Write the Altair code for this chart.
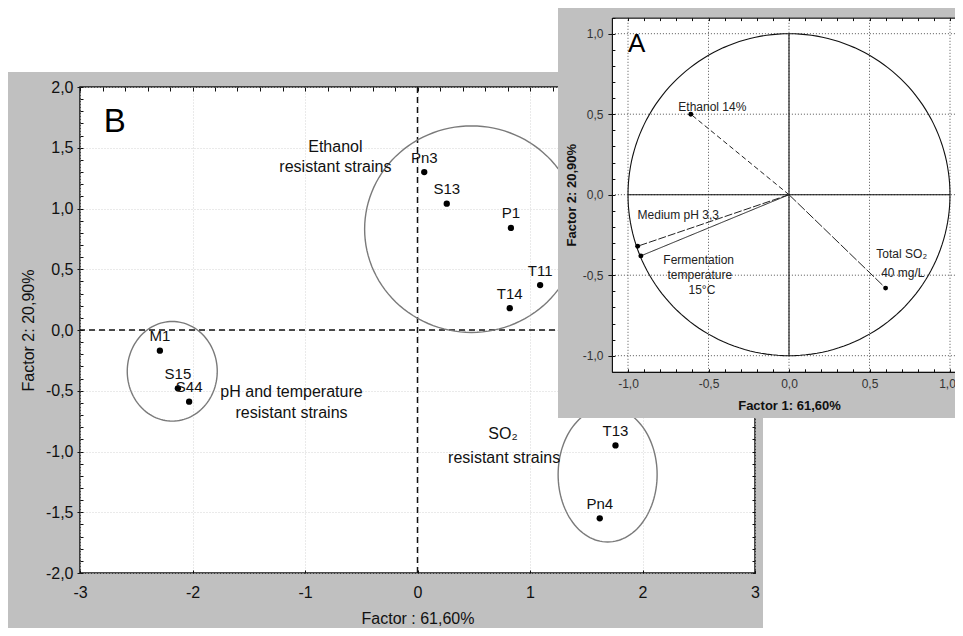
import altair as alt
import pandas as pd

FONT = "Liberation Sans"
INK = "#111111"

# ---------------- Panel B: factor scores of the strains ----------------
strain_names = ["M1", "S15", "S44", "Pn3", "S13", "P1", "T11", "T14", "T13", "Pn4"]
strain_f1 = [-2.29, -2.13, -2.03, 0.06, 0.26, 0.83, 1.09, 0.82, 1.76, 1.62]
strain_f2 = [-0.17, -0.48, -0.59, 1.30, 1.04, 0.84, 0.37, 0.18, -0.95, -1.55]

cluster_names = ["ethanol", "ph_temperature", "so2"]
cluster_cx = [0.48, -2.18, 1.69]
cluster_cy = [0.83, -0.34, -1.19]
cluster_rx = [0.95, 0.40, 0.44]
cluster_ry = [0.85, 0.41, 0.555]

group_text = ["Ethanol", "resistant strains", "pH and temperature",
              "resistant strains", "SO\u2082", "resistant strains"]
group_x = [-0.73, -0.73, -1.12, -1.12, 0.76, 0.77]
group_y = [1.51, 1.34, -0.51, -0.68, -0.86, -1.05]

B_X_TICKS = [-3, -2, -1, 0, 1, 2, 3]
B_Y_TICKS = [-2.0, -1.5, -1.0, -0.5, 0.0, 0.5, 1.0, 1.5, 2.0]

# ---------------- Panel A: loadings of the variables ----------------
var_names = ["Ethanol 14%", "Medium pH 3,3", "Fermentation temperature 15\u00b0C",
             "Total SO\u2082 40 mg/L"]
var_f1 = [-0.61, -0.94, -0.92, 0.60]
var_f2 = [0.50, -0.32, -0.38, -0.58]

var_label_text = ["Ethanol 14%", "Medium pH 3,3", "Fermentation", "temperature",
                  "15\u00b0C", "Total SO\u2082", "40 mg/L"]
var_label_x = [-0.476, -0.688, -0.561, -0.554, -0.541, 0.70, 0.707]
var_label_y = [0.547, -0.126, -0.404, -0.497, -0.592, -0.37, -0.488]

A_TICKS = [-1.0, -0.5, 0.0, 0.5, 1.0]

# ---------------- layout (pixels) ----------------
W, H = 675, 486
PAD = {"left": 72, "top": 79, "right": 200, "bottom": 55}
A_X_RANGE = [531.9, 886.1]
A_Y_RANGE = [284.8, -69.4]

B_XS = alt.Scale(domain=[-3, 3], range=[0, W], nice=False, zero=False)
B_YS = alt.Scale(domain=[-2, 2], range=[H, 0], nice=False, zero=False)
A_XS = alt.Scale(domain=[-1.1, 1.1], range=A_X_RANGE, nice=False, zero=False)
A_YS = alt.Scale(domain=[-1.1, 1.1], range=A_Y_RANGE, nice=False, zero=False)

LBL_DEC = "(datum.value < 0 ? '-' : '') + replace(format(abs(datum.value), '.1f'), '.', ',')"
LBL_INT = "(datum.value < 0 ? '-' : '') + format(abs(datum.value), 'd')"


def axis(**kw):
    base = dict(title=None, domain=False, ticks=False, labels=False, grid=False,
                labelFlush=False, labelOverlap=False, tickColor=INK, tickWidth=1,
                domainColor=INK, labelFont=FONT, titleFont=FONT)
    base.update(kw)
    return alt.Axis(**base)


# B axes (behind marks)
b_x_main = axis(orient="bottom", values=B_X_TICKS, labels=True, labelExpr=LBL_INT,
                labelFontSize=16, labelColor=INK, labelPadding=11,
                grid=True, gridColor="#d4d4d4", gridDash=[1, 2],
                title="Factor : 61,60%", titleFontSize=16, titleFontWeight="normal",
                titleColor=INK, titlePadding=10, zindex=0)
b_y_main = axis(orient="left", values=B_Y_TICKS, labels=True, labelExpr=LBL_DEC,
                labelFontSize=16, labelColor=INK, labelPadding=4,
                ticks=True, tickSize=3,
                grid=True, gridColor="#d4d4d4", gridDash=[1, 2],
                title="Factor 2: 20,90%", titleFontSize=16, titleFontWeight="normal",
                titleColor=INK, titlePadding=9, zindex=0)
b_x_top_in = axis(orient="bottom", offset=-H, ticks=True, tickCount=30, tickSize=4, zindex=0)
b_y_left_in = axis(orient="right", offset=-W, ticks=True, tickCount=40, tickSize=3, zindex=0)
b_x_bottom_in = axis(orient="top", offset=-H, ticks=True, values=B_X_TICKS, tickSize=3, zindex=0)
b_y_right_in = axis(orient="left", offset=-W, ticks=True, tickCount=40, tickSize=3, zindex=0)

# A axes (in front)
a_x_main = axis(orient="bottom", offset=A_Y_RANGE[0] - H, values=A_TICKS, labels=True,
                labelExpr=LBL_DEC, labelFontSize=12, labelColor="#333", labelPadding=7,
                labelOffset={"condition": {"test": "datum.value == 1", "value": -3}, "value": 0},
                domain=True, domainWidth=1.2,
                title="Factor 1: 61,60%", titleFontSize=13, titleFontWeight="bold",
                titleColor=INK, titlePadding=10, zindex=1)
a_y_main = axis(orient="left", offset=-A_X_RANGE[0], values=A_TICKS, labels=True,
                labelExpr=LBL_DEC, labelFontSize=12, labelColor="#333", labelPadding=5,
                ticks=True, tickSize=4, domain=True, domainWidth=1.2,
                title="Factor 2: 20,90%", titleFontSize=13, titleFontWeight="bold",
                titleColor=INK, titlePadding=4, zindex=1)
a_y_left_in = axis(orient="right", offset=A_X_RANGE[0] - W, ticks=True, tickCount=22,
                   tickSize=3, zindex=1)
a_x_top = axis(orient="bottom", offset=A_Y_RANGE[1] - H, ticks=True, tickCount=22,
               tickSize=3, domain=True, domainWidth=1.2, zindex=1)
a_x_bottom_in = axis(orient="top", offset=-A_Y_RANGE[0], ticks=True, tickCount=22,
                     tickSize=3, zindex=1)

# ---------------- tables ----------------
one = pd.DataFrame({"k": [0]})
strains = pd.DataFrame({"name": strain_names, "f1": strain_f1, "f2": strain_f2})
clusters = pd.DataFrame({"name": cluster_names, "cx": cluster_cx, "cy": cluster_cy,
                         "rx": cluster_rx, "ry": cluster_ry})
groups = pd.DataFrame({"text": group_text, "x": group_x, "y": group_y})
variables = pd.DataFrame({"name": var_names, "f1": var_f1, "f2": var_f2})
var_labels = pd.DataFrame({"text": var_label_text, "x": var_label_x, "y": var_label_y})
cross = pd.DataFrame({"x1": [0, -1], "x2": [0, 1], "y1": [-1, 0], "y2": [1, 0]})
unit = pd.DataFrame({"r": [1.0]})
a_ticks_df = pd.DataFrame({"v": A_TICKS})
letter_b = pd.DataFrame({"text": ["B"], "x": [-2.79], "y": [1.71]})
letter_a = pd.DataFrame({"text": ["A"], "x": [-1.0], "y": [0.936]})

# ---------------- panel B layers ----------------
b_zero_v = alt.Chart(one).mark_rule(color=INK, strokeWidth=1.5, strokeDash=[6, 4]).encode(
    x=alt.X("k:Q", scale=B_XS, axis=None))
b_zero_h = alt.Chart(one).mark_rule(color=INK, strokeWidth=1.5, strokeDash=[6, 4]).encode(
    y=alt.Y("k:Q", scale=B_YS, axis=None))

b_ellipses = alt.Chart(clusters).transform_calculate(
    deg="sequence(0, 361, 3)"
).transform_flatten(["deg"]).transform_calculate(
    ex="datum.cx + datum.rx * cos(datum.deg * PI / 180)",
    ey="datum.cy + datum.ry * sin(datum.deg * PI / 180)",
).mark_line(color="#7a7a7a", strokeWidth=1.4).encode(
    x=alt.X("ex:Q", scale=B_XS, axis=None),
    y=alt.Y("ey:Q", scale=B_YS, axis=None),
    detail="name:N",
    order=alt.Order("deg:Q"),
)

b_points = alt.Chart(strains).mark_circle(size=40, color="black", opacity=1).encode(
    x=alt.X("f1:Q", scale=B_XS, axis=b_x_main),
    y=alt.Y("f2:Q", scale=B_YS, axis=b_y_main),
)
b_point_labels = alt.Chart(strains).mark_text(font=FONT, fontSize=15, dy=-14.5, color=INK).encode(
    x=alt.X("f1:Q", scale=B_XS, axis=b_x_top_in),
    y=alt.Y("f2:Q", scale=B_YS, axis=b_y_left_in),
    text="name:N",
)
b_groups = alt.Chart(groups).mark_text(font=FONT, fontSize=16, color=INK).encode(
    x=alt.X("x:Q", scale=B_XS, axis=b_x_bottom_in),
    y=alt.Y("y:Q", scale=B_YS, axis=b_y_right_in),
    text="text:N",
)
b_letter = alt.Chart(letter_b).mark_text(font=FONT, fontSize=33, align="left",
                                         baseline="middle", color="black").encode(
    x=alt.X("x:Q", scale=B_XS, axis=None),
    y=alt.Y("y:Q", scale=B_YS, axis=None),
    text="text:N",
)

# ---------------- page decoration ----------------
top_strip = alt.Chart(one).mark_rect(color="white").encode(
    x=alt.value(-80), x2=alt.value(900), y=alt.value(-90), y2=alt.value(-15))
right_strip = alt.Chart(one).mark_rect(color="white").encode(
    x=alt.value(683), x2=alt.value(900), y=alt.value(-15), y2=alt.value(560))
a_panel = alt.Chart(one).mark_rect(color="#c0c0c0").encode(
    x=alt.value(478), x2=alt.value(900), y=alt.value(-90), y2=alt.value(331))

# ---------------- panel A layers ----------------
a_plot = alt.Chart(one).mark_rect(color="white").encode(
    x=alt.XDatum(-1.1, type="quantitative", scale=A_XS, axis=None),
    x2=alt.X2Datum(1.3),
    y=alt.YDatum(-1.1, type="quantitative", scale=A_YS, axis=None),
    y2=alt.Y2Datum(1.1),
)
a_grid_v = alt.Chart(a_ticks_df).mark_rule(color="#555", strokeWidth=1, strokeDash=[1, 2]).encode(
    x=alt.X("v:Q", scale=A_XS, axis=None),
    y=alt.YDatum(-1.1, type="quantitative", scale=A_YS, axis=None),
    y2=alt.Y2Datum(1.1),
)
a_grid_h = alt.Chart(a_ticks_df).mark_rule(color="#555", strokeWidth=1, strokeDash=[1, 2]).encode(
    y=alt.Y("v:Q", scale=A_YS, axis=None),
    x=alt.XDatum(-1.1, type="quantitative", scale=A_XS, axis=None),
    x2=alt.X2Datum(1.3),
)
a_circle = alt.Chart(unit).transform_calculate(
    deg="sequence(0, 361, 2)"
).transform_flatten(["deg"]).transform_calculate(
    cx="datum.r * cos(datum.deg * PI / 180)",
    cy="datum.r * sin(datum.deg * PI / 180)",
).mark_line(color=INK, strokeWidth=1.1).encode(
    x=alt.X("cx:Q", scale=A_XS, axis=a_x_top),
    y=alt.Y("cy:Q", scale=A_YS, axis=None),
    order=alt.Order("deg:Q"),
)
a_cross = alt.Chart(cross).mark_rule(color=INK, strokeWidth=1.1).encode(
    x=alt.X("x1:Q", scale=A_XS, axis=a_x_bottom_in), x2="x2:Q",
    y=alt.Y("y1:Q", scale=A_YS, axis=None), y2="y2:Q",
)
a_vectors = alt.Chart(variables).transform_calculate(ox="0", oy="0").mark_rule(
    color="#222", strokeWidth=1).encode(
    x=alt.X("ox:Q", scale=A_XS, axis=None), x2="f1:Q",
    y=alt.Y("oy:Q", scale=A_YS, axis=None), y2="f2:Q",
    strokeDash=alt.StrokeDash("name:N", scale=alt.Scale(
        domain=var_names, range=[[5, 3], [8, 2], [1, 0], [10, 2]]), legend=None),
)
a_points = alt.Chart(variables).mark_circle(size=24, color="black", opacity=1).encode(
    x=alt.X("f1:Q", scale=A_XS, axis=a_x_main),
    y=alt.Y("f2:Q", scale=A_YS, axis=a_y_main),
)
a_labels = alt.Chart(var_labels).mark_text(font=FONT, fontSize=12, color="#222").encode(
    x=alt.X("x:Q", scale=A_XS, axis=None),
    y=alt.Y("y:Q", scale=A_YS, axis=a_y_left_in),
    text="text:N",
)
a_letter = alt.Chart(letter_a).mark_text(font=FONT, fontSize=26, align="left",
                                         baseline="middle", color="black").encode(
    x=alt.X("x:Q", scale=A_XS, axis=None),
    y=alt.Y("y:Q", scale=A_YS, axis=None),
    text="text:N",
)

chart = alt.layer(
    b_zero_v, b_zero_h, b_ellipses, b_points, b_point_labels, b_groups, b_letter,
    top_strip, right_strip, a_panel,
    a_plot, a_grid_v, a_grid_h, a_circle, a_cross, a_vectors, a_points, a_labels, a_letter,
).resolve_scale(
    x="independent", y="independent", strokeDash="independent"
).properties(
    width=W, height=H, padding=PAD,
    autosize=alt.AutoSizeParams(type="none"),
    background="#c0c0c0",
).configure(font=FONT).configure_view(fill="white", stroke=INK, strokeWidth=1.5)

chart.save("out.html", embed_options={"renderer": "svg", "actions": False})
